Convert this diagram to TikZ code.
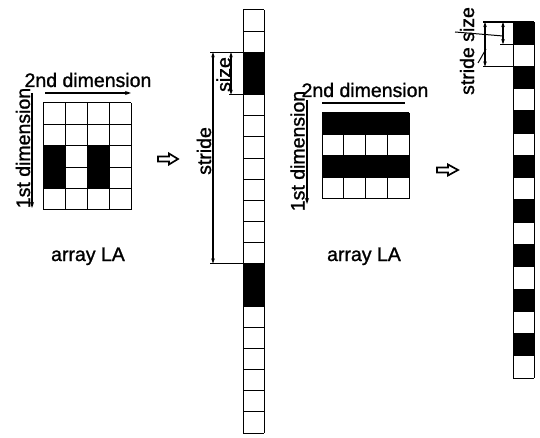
\documentclass[tikz,border=0pt]{standalone}
\usepackage{fontspec}
\setmainfont{Liberation Sans}
\newfontfamily\heavyfont{Liberation Sans}[FakeBold=1.2]
\usetikzlibrary{arrows.meta}
\begin{document}
\begin{tikzpicture}[x=1pt,y=-1pt,
  lbl/.style={inner sep=0pt, font=\heavyfont\fontsize{19.5}{20}\selectfont},
  gridline/.style={line width=1pt, draw=black},
  dimline/.style={line width=1.2pt, {Stealth[length=5pt,width=3.5pt]}-{Stealth[length=5pt,width=3.5pt]}},
  extline/.style={line width=1.1pt},
  dirarrow/.style={line width=1.4pt, -{Stealth[length=6pt,width=4pt]}},
  hollow/.style={line width=1.7pt, line join=miter, fill=white}]
\useasboundingbox (0,0) rectangle (540,438);

% ---------- left array LA ----------
\fill[black] (43,145.8) rectangle (65,188.6);
\fill[black] (87,145.8) rectangle (109,188.6);
\foreach \i in {0,...,4} \draw[gridline] (43+\i*22,103) -- (43+\i*22,210);
\foreach \j in {0,...,5} \draw[gridline] (43,103+\j*21.4) -- (131,103+\j*21.4);

\node[lbl, anchor=base] (dimtwoL) at (88,87) {2nd dimension};
\coordinate (dtLa) at (45,93); \coordinate (dtLb) at (131,93);
\draw[dirarrow] (dtLa) -- (dtLb);
\node[lbl, anchor=base, rotate=90] (dimoneL) at (30,148) {1st dimension};
\coordinate (doLa) at (32,93); \coordinate (doLb) at (32,208);
\draw[dirarrow] (doLa) -- (doLb);
\node[lbl, anchor=base] (arrL) at (88,261) {array LA};

% hollow arrow 1
\draw[hollow] (158,156.5) -- (169,156.5) -- (169,153.5) -- (178,159) -- (169,164.5) -- (169,161.5) -- (158,161.5) -- cycle;

% ---------- middle column ----------
\fill[black] (243,52.3) rectangle (264,94.6);
\fill[black] (243,263.5) rectangle (264,305.8);
\foreach \k in {0,...,20} \draw[gridline] (243,10+\k*21.15) -- (264,10+\k*21.15);
\draw[gridline] (243,10) -- (243,433);
\draw[gridline] (264,10) -- (264,433);

\coordinate (stA) at (213,52.3); \coordinate (stB) at (213,263.5);
\coordinate (szA) at (231,52.3); \coordinate (szB) at (231,94.6);
\draw[extline] (210,52.3) -- (243,52.3);
\draw[extline] (210,263.5) -- (243,263.5);
\draw[extline] (229,94.6) -- (243,94.6);
\draw[dimline] (stA) -- (stB);
\draw[dimline] (szA) -- (szB);
\node[lbl, anchor=base, rotate=90] (strideM) at (211,151) {stride};
\node[lbl, anchor=base, rotate=90] (sizeM) at (230.5,74.5) {size};

% ---------- right array LA ----------
\fill[black] (322,113) rectangle (409,134.5);
\fill[black] (322,156) rectangle (409,177.5);
\foreach \i in {0,...,4} \draw[gridline] (322+\i*21.75,113) -- (322+\i*21.75,199);
\foreach \j in {0,...,4} \draw[gridline] (322,113+\j*21.5) -- (409,113+\j*21.5);

\node[lbl, anchor=base] (dimtwoR) at (365,97) {2nd dimension};
\coordinate (dtRa) at (322,103); \coordinate (dtRb) at (405,103);
\draw[line width=1.4pt] (dtRa) -- (dtRb);
\node[lbl, anchor=base, rotate=90] (dimoneR) at (304.5,151) {1st dimension};
\coordinate (doRa) at (307,100); \coordinate (doRb) at (307,204);
\draw[dirarrow] (doRa) -- (doRb);
\node[lbl, anchor=base] (arrR) at (364,261) {array LA};

% hollow arrow 2
\draw[hollow] (437,167.5) -- (448,167.5) -- (448,164.5) -- (458,170) -- (448,175.5) -- (448,172.5) -- (437,172.5) -- cycle;

% ---------- right column ----------
\foreach \k in {0,2,...,14} \fill[black] (513,22+\k*22.25) rectangle (534,22+\k*22.25+22.25);
\foreach \k in {0,...,16} \draw[gridline] (513,22+\k*22.25) -- (534,22+\k*22.25);
\draw[gridline] (513,22) -- (513,378);
\draw[gridline] (534,22) -- (534,378);

\coordinate (rstA) at (485,22); \coordinate (rstB) at (485,66.5);
\coordinate (rszA) at (503,22); \coordinate (rszB) at (503,44.25);
\draw[extline] (483,22) -- (513,22);
\draw[extline] (483,66.5) -- (513,66.5);
\draw[extline] (500,44.25) -- (513,44.25);
\draw[dimline] (rstA) -- (rstB);
\draw[dimline] (rszA) -- (rszB);
\node[lbl, anchor=base, rotate=90] (stsz) at (474,51) {stride size};
\coordinate (ldA) at (455,32); \coordinate (ldB) at (503,36);
\coordinate (ldC) at (478,63); \coordinate (ldD) at (486,49);
\draw[line width=1pt] (ldA) -- (ldB);
\draw[line width=1pt] (ldC) -- (ldD);
\end{tikzpicture}
\end{document}
